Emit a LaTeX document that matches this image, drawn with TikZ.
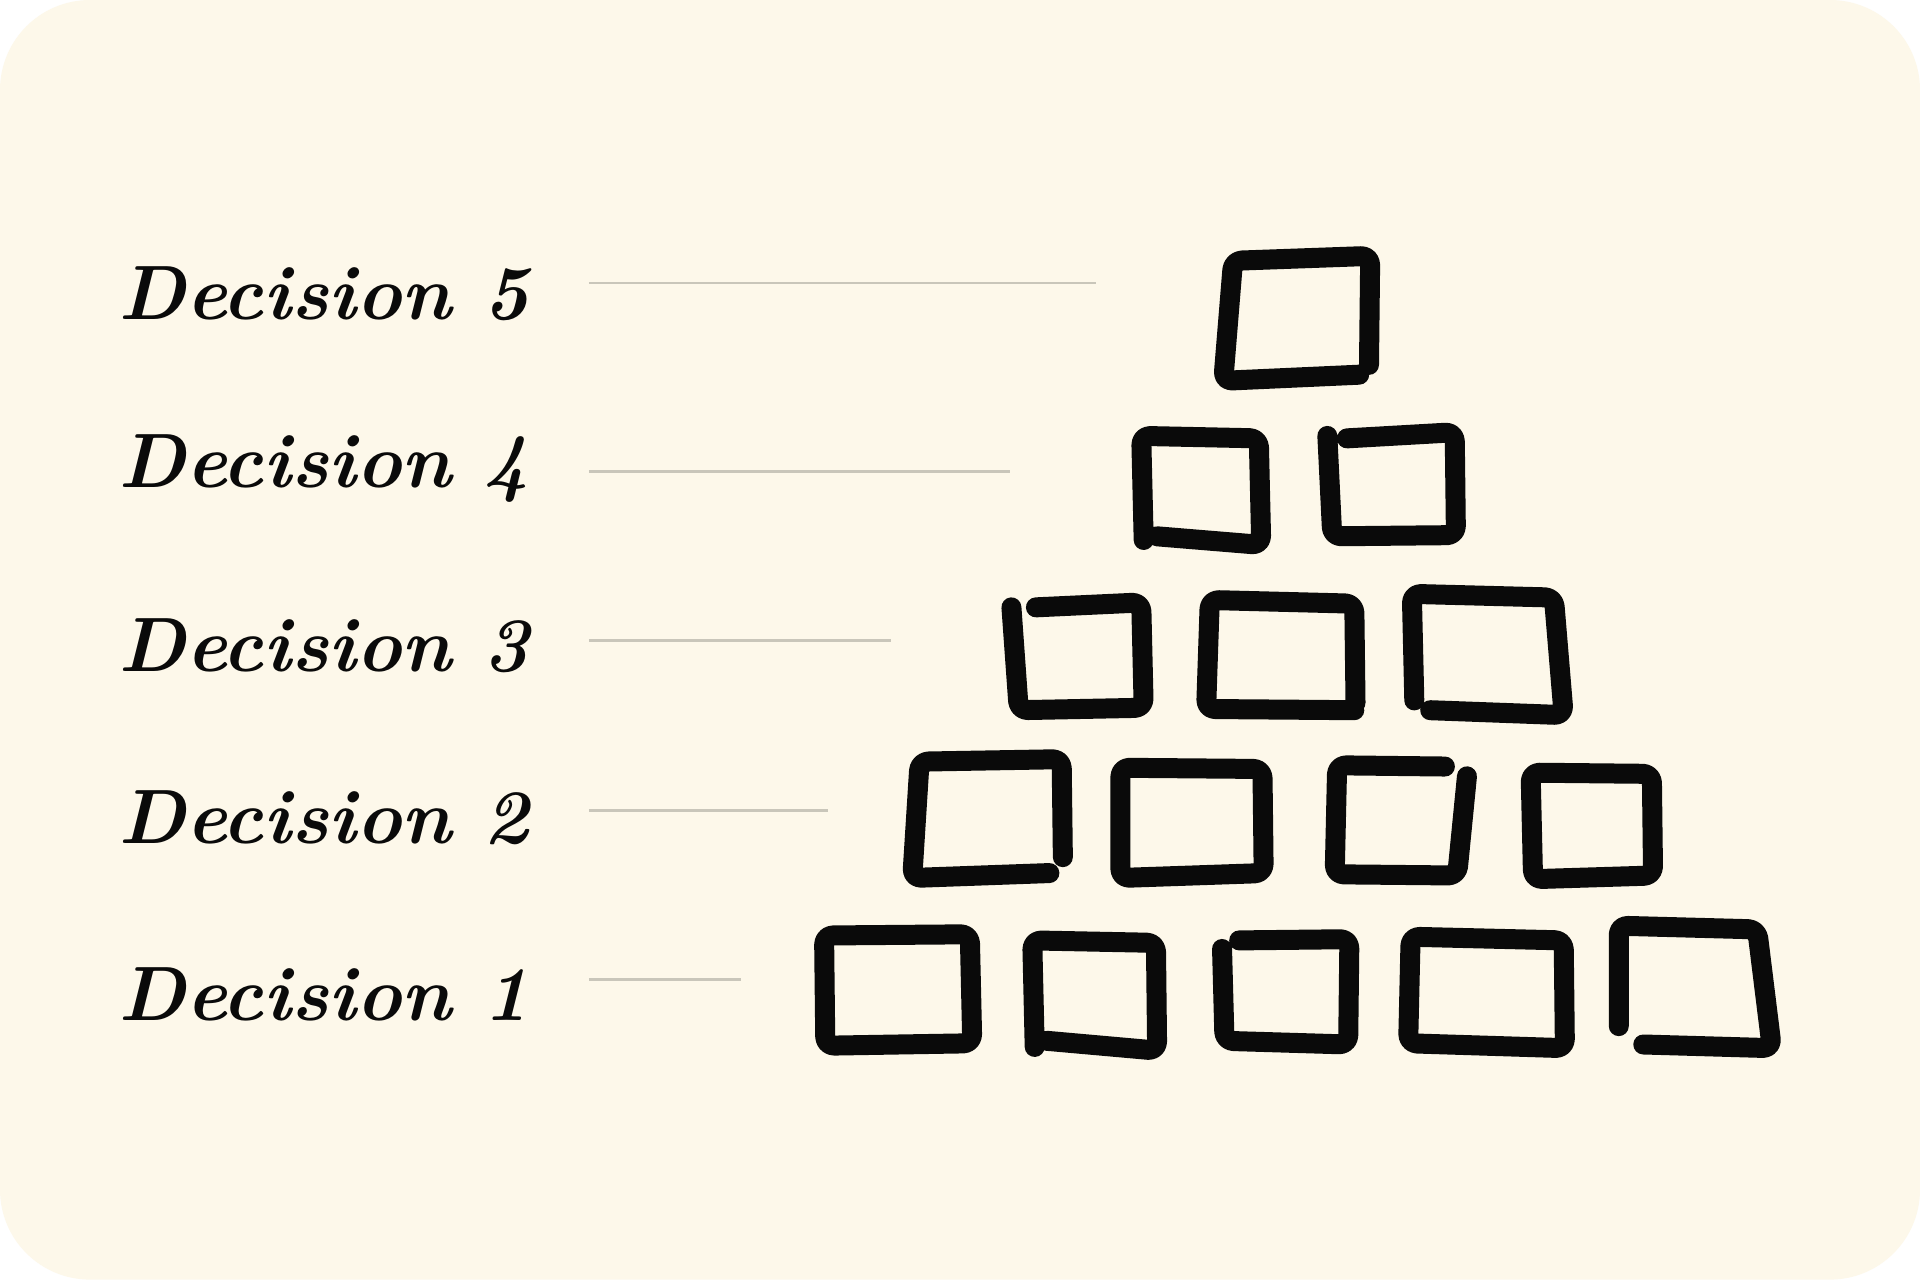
\documentclass[tikz,border=0pt]{standalone}
\usetikzlibrary{calc}
\definecolor{bgcream}{HTML}{FDF8EA}
\definecolor{guide}{HTML}{C9C6BA}
\definecolor{ink}{HTML}{0A0A0A}
\tikzset{
  label/.style={anchor=west, inner sep=0pt, font=\fontsize{77}{92}\selectfont\bfseries\itshape, text=ink},
  guideline/.style={draw=guide, line width=2.5pt},
  brick/.style={draw=ink, line width=20pt, line cap=round, line join=round, rounded corners=9pt},
}
\begin{document}
\begin{tikzpicture}[x=1.2245pt,y=-1.2245pt]
\useasboundingbox (0,0) rectangle (1568,1045);
\fill[white] (0,0) rectangle (1568,1045);
\fill[bgcream, rounded corners=90] (0,0) rectangle (1568,1045);

% labels
\node[label] (d5) at (97,240) {Decision 5};
\node[label] (d4) at (97,383) {Decision 4};
\node[label] (d3) at (97,527) {Decision 3};
\node[label] (d2) at (97,668) {Decision 2};
\node[label] (d1) at (97,812) {Decision 1};

% guide lines
\coordinate (g5s) at (481,231); \coordinate (g5e) at (895,231);
\coordinate (g4s) at (481,385); \coordinate (g4e) at (825,385);
\coordinate (g3s) at (481,523); \coordinate (g3e) at (728,523);
\coordinate (g2s) at (481,662); \coordinate (g2e) at (676,662);
\coordinate (g1s) at (481,800); \coordinate (g1e) at (605,800);
\draw[guideline] (g5s) -- (g5e);
\draw[guideline] (g4s) -- (g4e);
\draw[guideline] (g3s) -- (g3e);
\draw[guideline] (g2s) -- (g2e);
\draw[guideline] (g1s) -- (g1e);

% row 5
\draw[brick] (1110,306) -- (999,311) -- (1007,213) -- (1119,209) -- (1118,298);
% row 4
\draw[brick] (934,441) -- (932,356) -- (1028,358) -- (1030,445) -- (945,438);
\draw[brick] (1084,356) -- (1088,438) -- (1189,437) -- (1188,353) -- (1100,358);
% row 3
\draw[brick] (826,496) -- (832,580) -- (934,578) -- (932,492) -- (846,496);
\draw[brick] (1106,580) -- (985,579) -- (988,490) -- (1106,493) -- (1107,574);
\draw[brick] (1155,572) -- (1153,485) -- (1269,488) -- (1277,584) -- (1168,580);
% row 2
\draw[brick] (857,713) -- (745,717) -- (751,622) -- (867,620) -- (868,700);
\draw[brick] (915,717) -- (915,627) -- (1031,628) -- (1032,713) -- cycle;
\draw[brick] (1180,626) -- (1092,625) -- (1090,714) -- (1190,715) -- (1198,634);
\draw[brick] (1252,718) -- (1250,631) -- (1349,632) -- (1350,715) -- cycle;
% row 1
\draw[brick] (674,854) -- (673,764) -- (792,763) -- (794,852) -- cycle;
\draw[brick] (845,855) -- (843,768) -- (944,770) -- (945,858) -- (855,850);
\draw[brick] (998,775) -- (1000,850) -- (1101,853) -- (1102,767) -- (1012,768);
\draw[brick] (1150,852) -- (1152,765) -- (1277,768) -- (1278,856) -- cycle;
\draw[brick] (1322,838) -- (1322,756) -- (1435,759) -- (1447,856) -- (1342,853);
\end{tikzpicture}
\end{document}
